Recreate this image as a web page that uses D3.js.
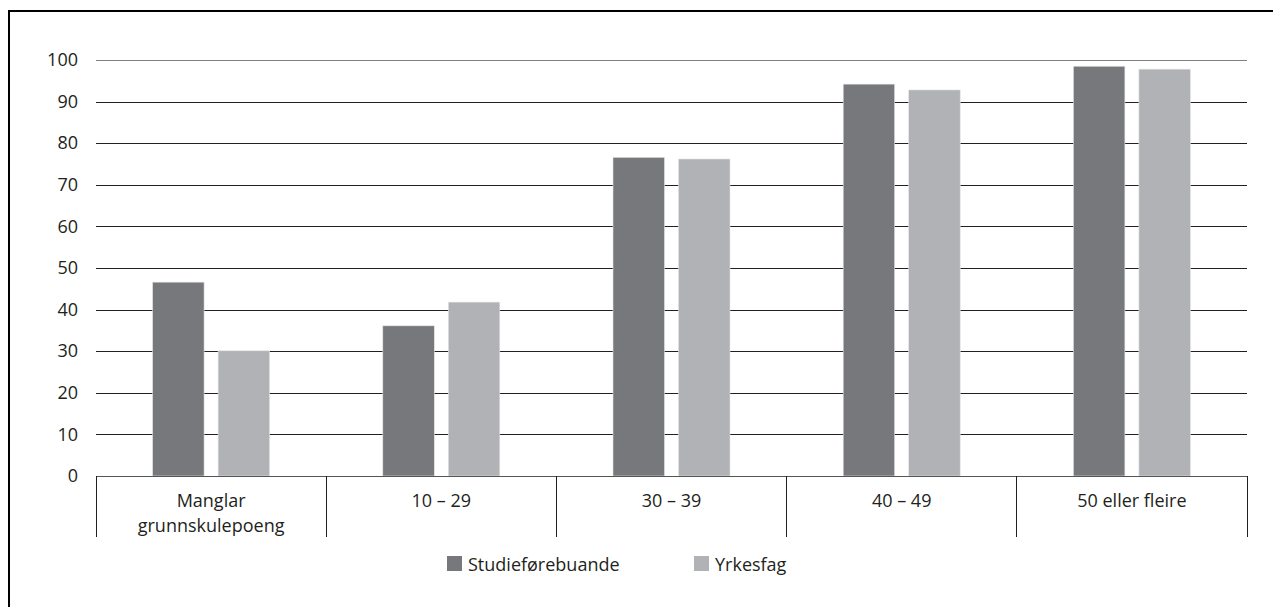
<!DOCTYPE html>
<html>
<head>
<meta charset="utf-8">
<script src="https://cdn.jsdelivr.net/npm/d3@7"></script>
<style>
  body { margin: 0; background: #fff; }
  svg { display: block; font-family: "Open Sans", "Noto Sans", sans-serif; }
</style>
</head>
<body>
<svg id="chart"></svg>
<script>
// categories (multi-line labels split on \n)
const categories = ["Manglar\ngrunnskulepoeng", "10 – 29", "30 – 39", "40 – 49", "50 eller fleire"];
const seriesNames = ["Studieførebuande", "Yrkesfag"];
const studieValues = [46.6, 36.1, 76.6, 94.2, 98.5];
const yrkesValues = [30.1, 41.8, 76.2, 92.8, 97.8];
const yTicks = [0, 10, 20, 30, 40, 50, 60, 70, 80, 90, 100];
const colors = ["#77787b", "#b1b2b5"];

let data = categories.map((c, i) => ({
    cat: c,
    values: [
        { key: seriesNames[0], value: studieValues[i] },
        { key: seriesNames[1], value: yrkesValues[i] }
    ]
}));

//config
let width = 1273;
let height = 607;
let margin = { top: 60, left: 96, right: 26, bottom: 131 };
let bodyWidth = width - margin.left - margin.right;
let bodyHeight = height - margin.top - margin.bottom;
let fontSize = '18px';

let svg = d3.select('#chart')
    .attr('width', width)
    .attr('height', height);

// frame: only top and left edges
svg.append('line').attr('x1', 9).attr('x2', width).attr('y1', 11).attr('y2', 11)
    .attr('stroke', '#000').attr('stroke-width', 2);
svg.append('line').attr('x1', 9).attr('x2', 9).attr('y1', 10).attr('y2', height)
    .attr('stroke', '#000').attr('stroke-width', 2);

//scales
let x0 = d3.scaleBand()
    .domain(categories)
    .range([0, bodyWidth]);

let x1 = d3.scaleBand()
    .domain(seriesNames)
    .range([0, x0.bandwidth()])
    .paddingInner(0.214)
    .paddingOuter(0.864);

let y = d3.scaleLinear()
    .domain([0, 100])
    .range([bodyHeight, 0]);

let body = svg.append('g')
    .attr('transform', `translate(${margin.left},${margin.top})`);

//gridlines + y labels
let axisY = d3.axisLeft(y)
    .tickValues(yTicks)
    .tickSize(-bodyWidth)
    .tickPadding(18);

let gy = body.append('g').call(axisY);
gy.select('.domain').remove();
gy.selectAll('.tick line')
    .attr('stroke', d => d === 100 ? '#808080' : '#231f20')
    .attr('stroke-width', 1)
    .attr('shape-rendering', 'crispEdges')
    .style('display', d => d === 0 ? 'none' : null);
gy.selectAll('.tick text')
    .attr('fill', '#231f20')
    .style('font-size', fontSize)
    .style('font-family', '"Open Sans", "Noto Sans", sans-serif');

//bars
let groups = body.selectAll('.grp')
    .data(data)
    .enter().append('g')
    .attr('transform', d => `translate(${x0(d.cat)},0)`);

groups.selectAll('rect')
    .data(d => d.values)
    .enter().append('rect')
    .attr('x', d => x1(d.key))
    .attr('width', x1.bandwidth())
    .attr('y', d => y(d.value))
    .attr('height', d => bodyHeight - y(d.value))
    .attr('fill', (d, i) => colors[i])
    .attr('stroke', '#e4e4e4')
    .attr('stroke-width', 0.6);

//x axis baseline and category separators
body.append('line')
    .attr('x1', 0).attr('x2', bodyWidth)
    .attr('y1', y(0)).attr('y2', y(0))
    .attr('stroke', '#555').attr('stroke-width', 1)
    .attr('shape-rendering', 'crispEdges');

let bounds = categories.map(c => x0(c)).concat([bodyWidth]);
body.selectAll('.sep')
    .data(bounds)
    .enter().append('line')
    .attr('x1', d => d).attr('x2', d => d)
    .attr('y1', y(0)).attr('y2', y(0) + 61)
    .attr('stroke', '#231f20').attr('stroke-width', 1)
    .attr('shape-rendering', 'crispEdges');

//category labels
let labels = body.selectAll('.cat')
    .data(categories)
    .enter().append('text')
    .attr('x', d => x0(d) + x0.bandwidth() / 2)
    .attr('y', y(0) + 31)
    .attr('text-anchor', 'middle')
    .attr('fill', '#231f20')
    .style('font-size', fontSize);

labels.selectAll('tspan')
    .data(d => d.split('\n'))
    .enter().append('tspan')
    .attr('x', function() { return d3.select(this.parentNode).attr('x'); })
    .attr('dy', (d, i) => i === 0 ? 0 : 25)
    .text(d => d);

//legend
let legendPos = [447, 694];
let legend = svg.append('g');
legend.selectAll('rect')
    .data(seriesNames)
    .enter().append('rect')
    .attr('x', (d, i) => legendPos[i])
    .attr('y', 556)
    .attr('width', 15)
    .attr('height', 15)
    .attr('fill', (d, i) => colors[i]);
legend.selectAll('text')
    .data(seriesNames)
    .enter().append('text')
    .attr('x', (d, i) => legendPos[i] + 21)
    .attr('y', 571)
    .attr('fill', '#231f20')
    .style('font-size', fontSize)
    .text(d => d);
</script>
</body>
</html>
